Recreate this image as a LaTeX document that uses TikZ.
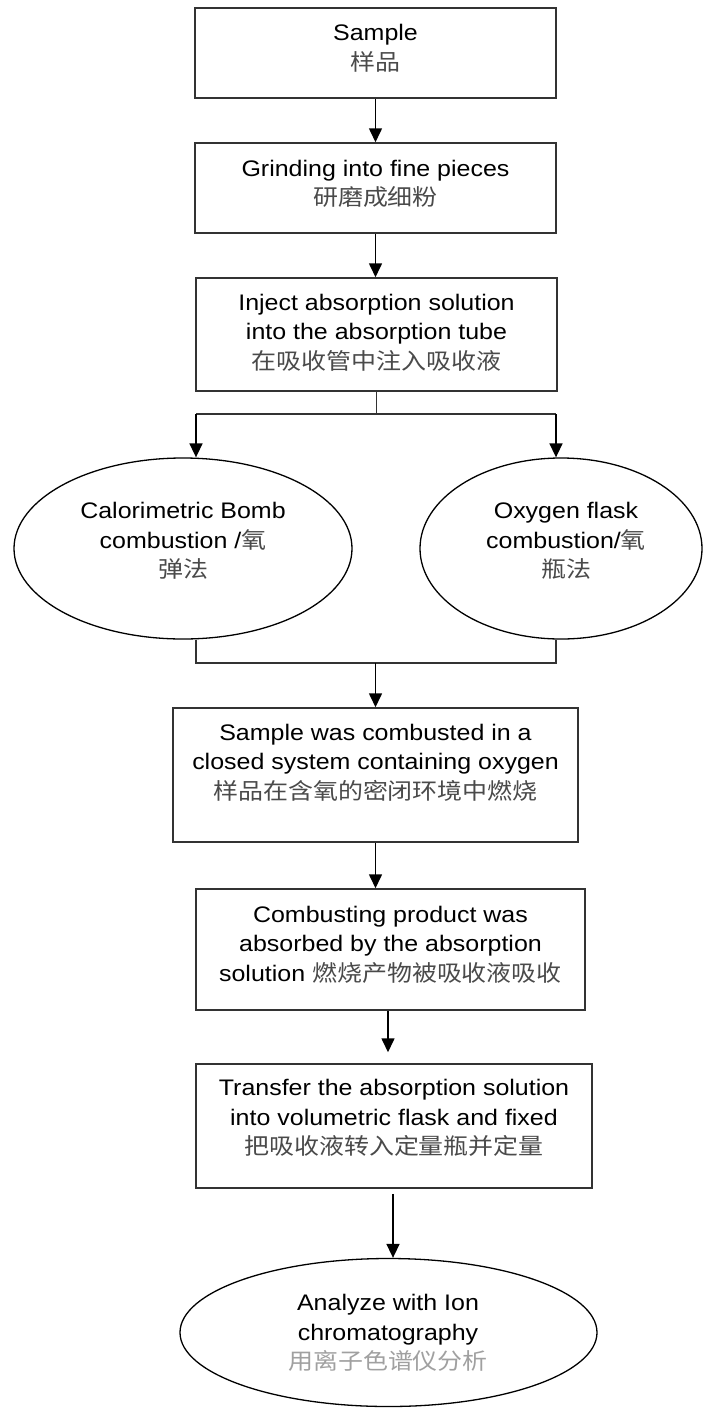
\documentclass[tikz,border=0pt]{standalone}
\usepackage{fontspec}
\setmainfont{Liberation Sans}[FakeStretch=1.11]
\newfontfamily\cjk{Noto Sans CJK SC}[FakeStretch=1.11]
\usetikzlibrary{arrows.meta,shapes.geometric}
\definecolor{linec}{HTML}{333333}
\definecolor{cjkc}{HTML}{4A4A4A}
\definecolor{cjklight}{HTML}{A0A0A0}
\newcommand{\zh}[1]{{\cjk\color{cjkc}#1}}
\newcommand{\zhl}[1]{{\cjk\color{cjklight}#1}}
\begin{document}
\begin{tikzpicture}[x=1pt,y=-1pt,
 box/.style={draw=linec, line width=1.5pt, rectangle, inner sep=0pt},
 oval/.style={draw=black, line width=1.3pt, ellipse, inner sep=0pt},
 txt/.style={align=center, font=\fontsize{22.5}{29.5}\selectfont, text=black, inner sep=0pt},
 arr/.style={-{Triangle[width=13pt,length=14pt]}, line width=1.6pt, draw=black},
 conn/.style={line width=1.3pt, draw=linec}]
\useasboundingbox (0,0) rectangle (705,1408);
% boxes and ovals
\node[box, minimum width=361pt, minimum height=90pt] (b1) at (375.5,53) {};
\node[box, minimum width=361pt, minimum height=90pt] (b2) at (375.5,188) {};
\node[box, minimum width=361pt, minimum height=113pt] (b3) at (376.5,334.5) {};
\node[oval, minimum width=338pt, minimum height=181pt] (eL) at (183,548.5) {};
\node[oval, minimum width=282pt, minimum height=181pt] (eR) at (561,548.5) {};
\node[box, minimum width=405pt, minimum height=134pt] (b4) at (375.5,775) {};
\node[box, minimum width=389pt, minimum height=121pt] (b5) at (390.5,949.5) {};
\node[box, minimum width=396pt, minimum height=124pt] (b6) at (394,1126) {};
\node[oval, minimum width=417pt, minimum height=148pt] (e3) at (388.5,1332.5) {};
% texts
\node[txt] (t1) at (375.5,48) {Sample\\\zh{样品}};
\node[txt] (t2) at (375.5,184) {Grinding into fine pieces\\\zh{研磨成细粉}};
\node[txt] (t3) at (376.5,332.5) {Inject absorption solution\\into the absorption tube\\\zh{在吸收管中注入吸收液}};
\node[txt] (tL) at (183,541) {Calorimetric Bomb\\combustion /\zh{氧}\\\zh{弹法}};
\node[txt] (tR) at (566,541) {Oxygen flask\\combustion/\zh{氧}\\\zh{瓶法}};
\node[txt] (t4) at (375.5,762.5) {Sample was combusted in a\\closed system containing oxygen\\\zh{样品在含氧的密闭环境中燃烧}};
\node[txt] (t5) at (390.5,944.5) {Combusting product was\\absorbed by the absorption\\solution \zh{燃烧产物被吸收液吸收}};
\node[txt] (t6) at (394,1118) {Transfer the absorption solution\\into volumetric flask and fixed\\\zh{把吸收液转入定量瓶并定量}};
\node[txt] (t7) at (388,1333) {Analyze with Ion\\chromatography\\\zhl{用离子色谱仪分析}};
% junction points
\coordinate (j1) at (376.5,414);
\coordinate (j1l) at (196,414);
\coordinate (j1r) at (556,414);
\coordinate (j2) at (375.5,663);
\coordinate (j2l) at (196,663);
\coordinate (j2r) at (556,663);
% connectors
\draw[arr] (b1.south) -- (b2.north);
\draw[arr] (b2.south) -- (b2.south |- b3.north);
\draw[conn] (b3.south) -- (j1);
\draw[conn] (j1l) -- (j1r);
\draw[arr] (j1l) -- (j1l |- eL.north);
\draw[arr] (j1r) -- (j1r |- eR.north);
\draw[conn] (j2l |- eL.south) -- (j2l) -- (j2r) -- (j2r |- eR.south);
\draw[arr] (j2) -- (b4.north);
\draw[arr] (b4.south) -- (b4.south |- b5.north);
\draw[arr, shorten >=11pt] ([xshift=-2.5pt]b5.south) -- ([xshift=-2.5pt]b5.south |- b6.north);
\draw[arr, shorten <=5pt] ([xshift=-1pt]b6.south) -- ([xshift=-1pt]b6.south |- e3.north);
\end{tikzpicture}
\end{document}
